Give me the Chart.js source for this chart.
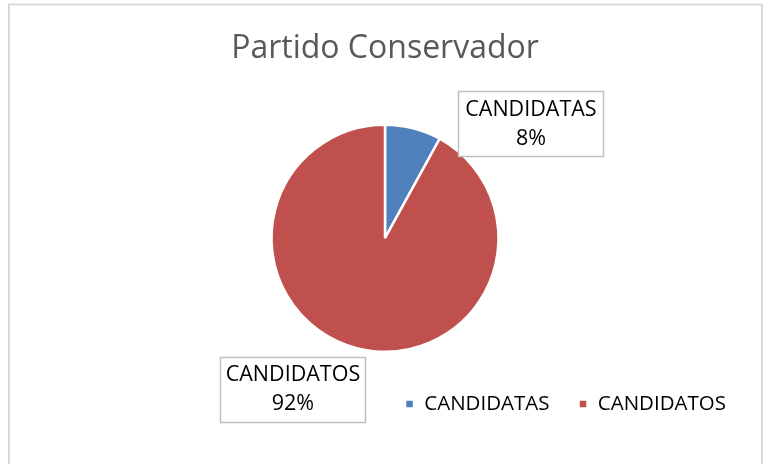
<!doctype html>
<html>
<head>
	<title>Partido Conservador</title>
	<script src="https://cdn.jsdelivr.net/npm/chart.js@4/dist/chart.umd.min.js"></script>
	<style>
		body { margin: 0; background: #fff; }
		#holder { width: 770px; height: 464px; }
	</style>
</head>
<body>
	<div id="holder">
		<canvas id="chart-area" width="770" height="464"></canvas>
	</div>
	<script>
		var chartTitle = 'Partido Conservador';
		var categories = ['CANDIDATAS', 'CANDIDATOS'];
		var values = [8, 92];
		var sliceColors = ['#4F81BD', '#C0504D'];

		// where each label box sits, in units of the pie radius from its centre
		var labelOffsets = [[1.286, -1.009], [-0.811, 1.330]];

		var frame = {
			id: 'frame',
			beforeDraw: function(chart) {
				var ctx = chart.ctx;
				ctx.save();
				ctx.fillStyle = '#fff';
				ctx.fillRect(0, 0, chart.width, chart.height);
				ctx.strokeStyle = '#d9d9d9';
				ctx.lineWidth = 2;
				ctx.strokeRect(9, 4.5, 753, 470);
				ctx.restore();
			}
		};

		var boxLabels = {
			id: 'boxLabels',
			afterDatasetsDraw: function(chart) {
				var ctx = chart.ctx;
				var data = chart.data.datasets[0].data;
				var total = data.reduce(function(a, b) { return a + b; }, 0);
				ctx.save();
				ctx.font = '21.5px "Open Sans", sans-serif';
				ctx.textAlign = 'center';
				ctx.textBaseline = 'middle';
				chart.getDatasetMeta(0).data.forEach(function(arc, i) {
					var r = arc.outerRadius;
					var cx = arc.x + labelOffsets[i][0] * r;
					var cy = arc.y + labelOffsets[i][1] * r;
					var w = 145, h = 65;
					ctx.fillStyle = '#fff';
					ctx.fillRect(cx - w / 2, cy - h / 2, w, h);
					ctx.strokeStyle = '#bfbfbf';
					ctx.lineWidth = 1.5;
					ctx.strokeRect(Math.round(cx - w / 2) + 0.5, Math.round(cy - h / 2) + 0.5, w, h);
					ctx.fillStyle = '#000';
					ctx.fillText(chart.data.labels[i], cx, cy - 14);
					ctx.fillText(Math.round(data[i] / total * 100) + '%', cx, cy + 15);
				});
				ctx.restore();
			}
		};

		var config = {
			type: 'pie',
			data: {
				labels: categories,
				datasets: [{
					data: values,
					backgroundColor: sliceColors,
					borderColor: '#fff',
					borderWidth: 2.5,
					radius: 113.5
				}]
			},
			options: {
				responsive: false,
				animation: false,
				layout: { padding: { top: 0, left: 15, right: 15, bottom: 39.75 } },
				plugins: {
					title: {
						display: true,
						text: chartTitle,
						color: '#595959',
						font: { family: '"Open Sans", sans-serif', size: 32, weight: 'normal' },
						padding: { top: 30, bottom: 43.25 }
					},
					legend: {
						position: 'bottom',
						align: 'end',
						labels: {
							boxWidth: 9,
							boxHeight: 9,
							padding: 29,
							color: '#000',
							font: { family: '"Open Sans", sans-serif', size: 20.5 }
						}
					},
					tooltip: { enabled: false }
				}
			},
			plugins: [frame, boxLabels]
		};

		window.onload = function() {
			var ctx = document.getElementById('chart-area').getContext('2d');
			window.myPie = new Chart(ctx, config);
		};
	</script>
</body>
</html>
